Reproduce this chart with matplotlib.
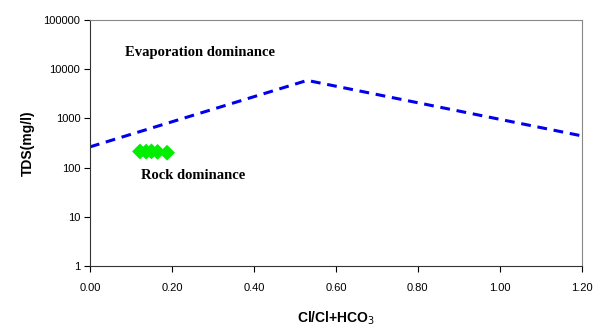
import matplotlib
matplotlib.use("Agg")
import matplotlib.pyplot as plt
from matplotlib.ticker import FixedLocator, FixedFormatter

# Gibbs boundary line
line_x = [0.0, 0.53, 1.20]
line_tds = [263, 5900, 440]

# Sample points
ratio = [0.122, 0.137, 0.150, 0.165, 0.188]
tds = [212, 210, 213, 208, 200]

x_ticks = [0.0, 0.2, 0.4, 0.6, 0.8, 1.0, 1.2]
y_ticks = [1, 10, 100, 1000, 10000, 100000]
y_labels = ["1", "10", "100", "1000", "10000", "100000"]

fig = plt.figure(figsize=(6.06, 3.32), dpi=100)
ax = fig.add_axes([0.1485, 0.199, 0.8115, 0.741])

ax.plot(line_x, line_tds, color="#0000ee", linestyle=(0, (3.2, 2.2)), linewidth=2.2)
ax.scatter(ratio, tds, marker="D", s=65, color="#00ee00", edgecolors="none", zorder=3)

ax.set_yscale("log")
ax.set_xlim(0, 1.2)
ax.set_ylim(1, 100000)
ax.xaxis.set_major_locator(FixedLocator(x_ticks))
ax.set_xticklabels([f"{v:.2f}" for v in x_ticks])
ax.yaxis.set_major_locator(FixedLocator(y_ticks))
ax.yaxis.set_major_formatter(FixedFormatter(y_labels))
ax.yaxis.set_minor_locator(FixedLocator([]))

ax.tick_params(direction="out", length=4, width=0.8, labelsize=8)
ax.tick_params(axis="x", pad=8)
ax.tick_params(axis="y", pad=3)
for lab in ax.get_xticklabels() + ax.get_yticklabels():
    lab.set_fontfamily("Liberation Sans")
for side in ["left", "bottom"]:
    ax.spines[side].set_color("#333333")
for side in ["top", "right"]:
    ax.spines[side].set_color("#888888")

ax.text(0.085, 22000, "Evaporation dominance", family="Liberation Serif",
        fontweight="bold", fontsize=10.5, va="center", ha="left")
ax.text(0.125, 68, "Rock dominance", family="Liberation Serif",
        fontweight="bold", fontsize=10.5, va="center", ha="left")

ax.set_xlabel("Cl/Cl+HCO$_3$", family="Liberation Sans", fontweight="bold",
              fontsize=10, labelpad=12)
ax.set_ylabel("TDS(mg/l)", family="Liberation Sans", fontweight="bold",
              fontsize=10, labelpad=6)

fig.savefig("out.png", dpi=100)
